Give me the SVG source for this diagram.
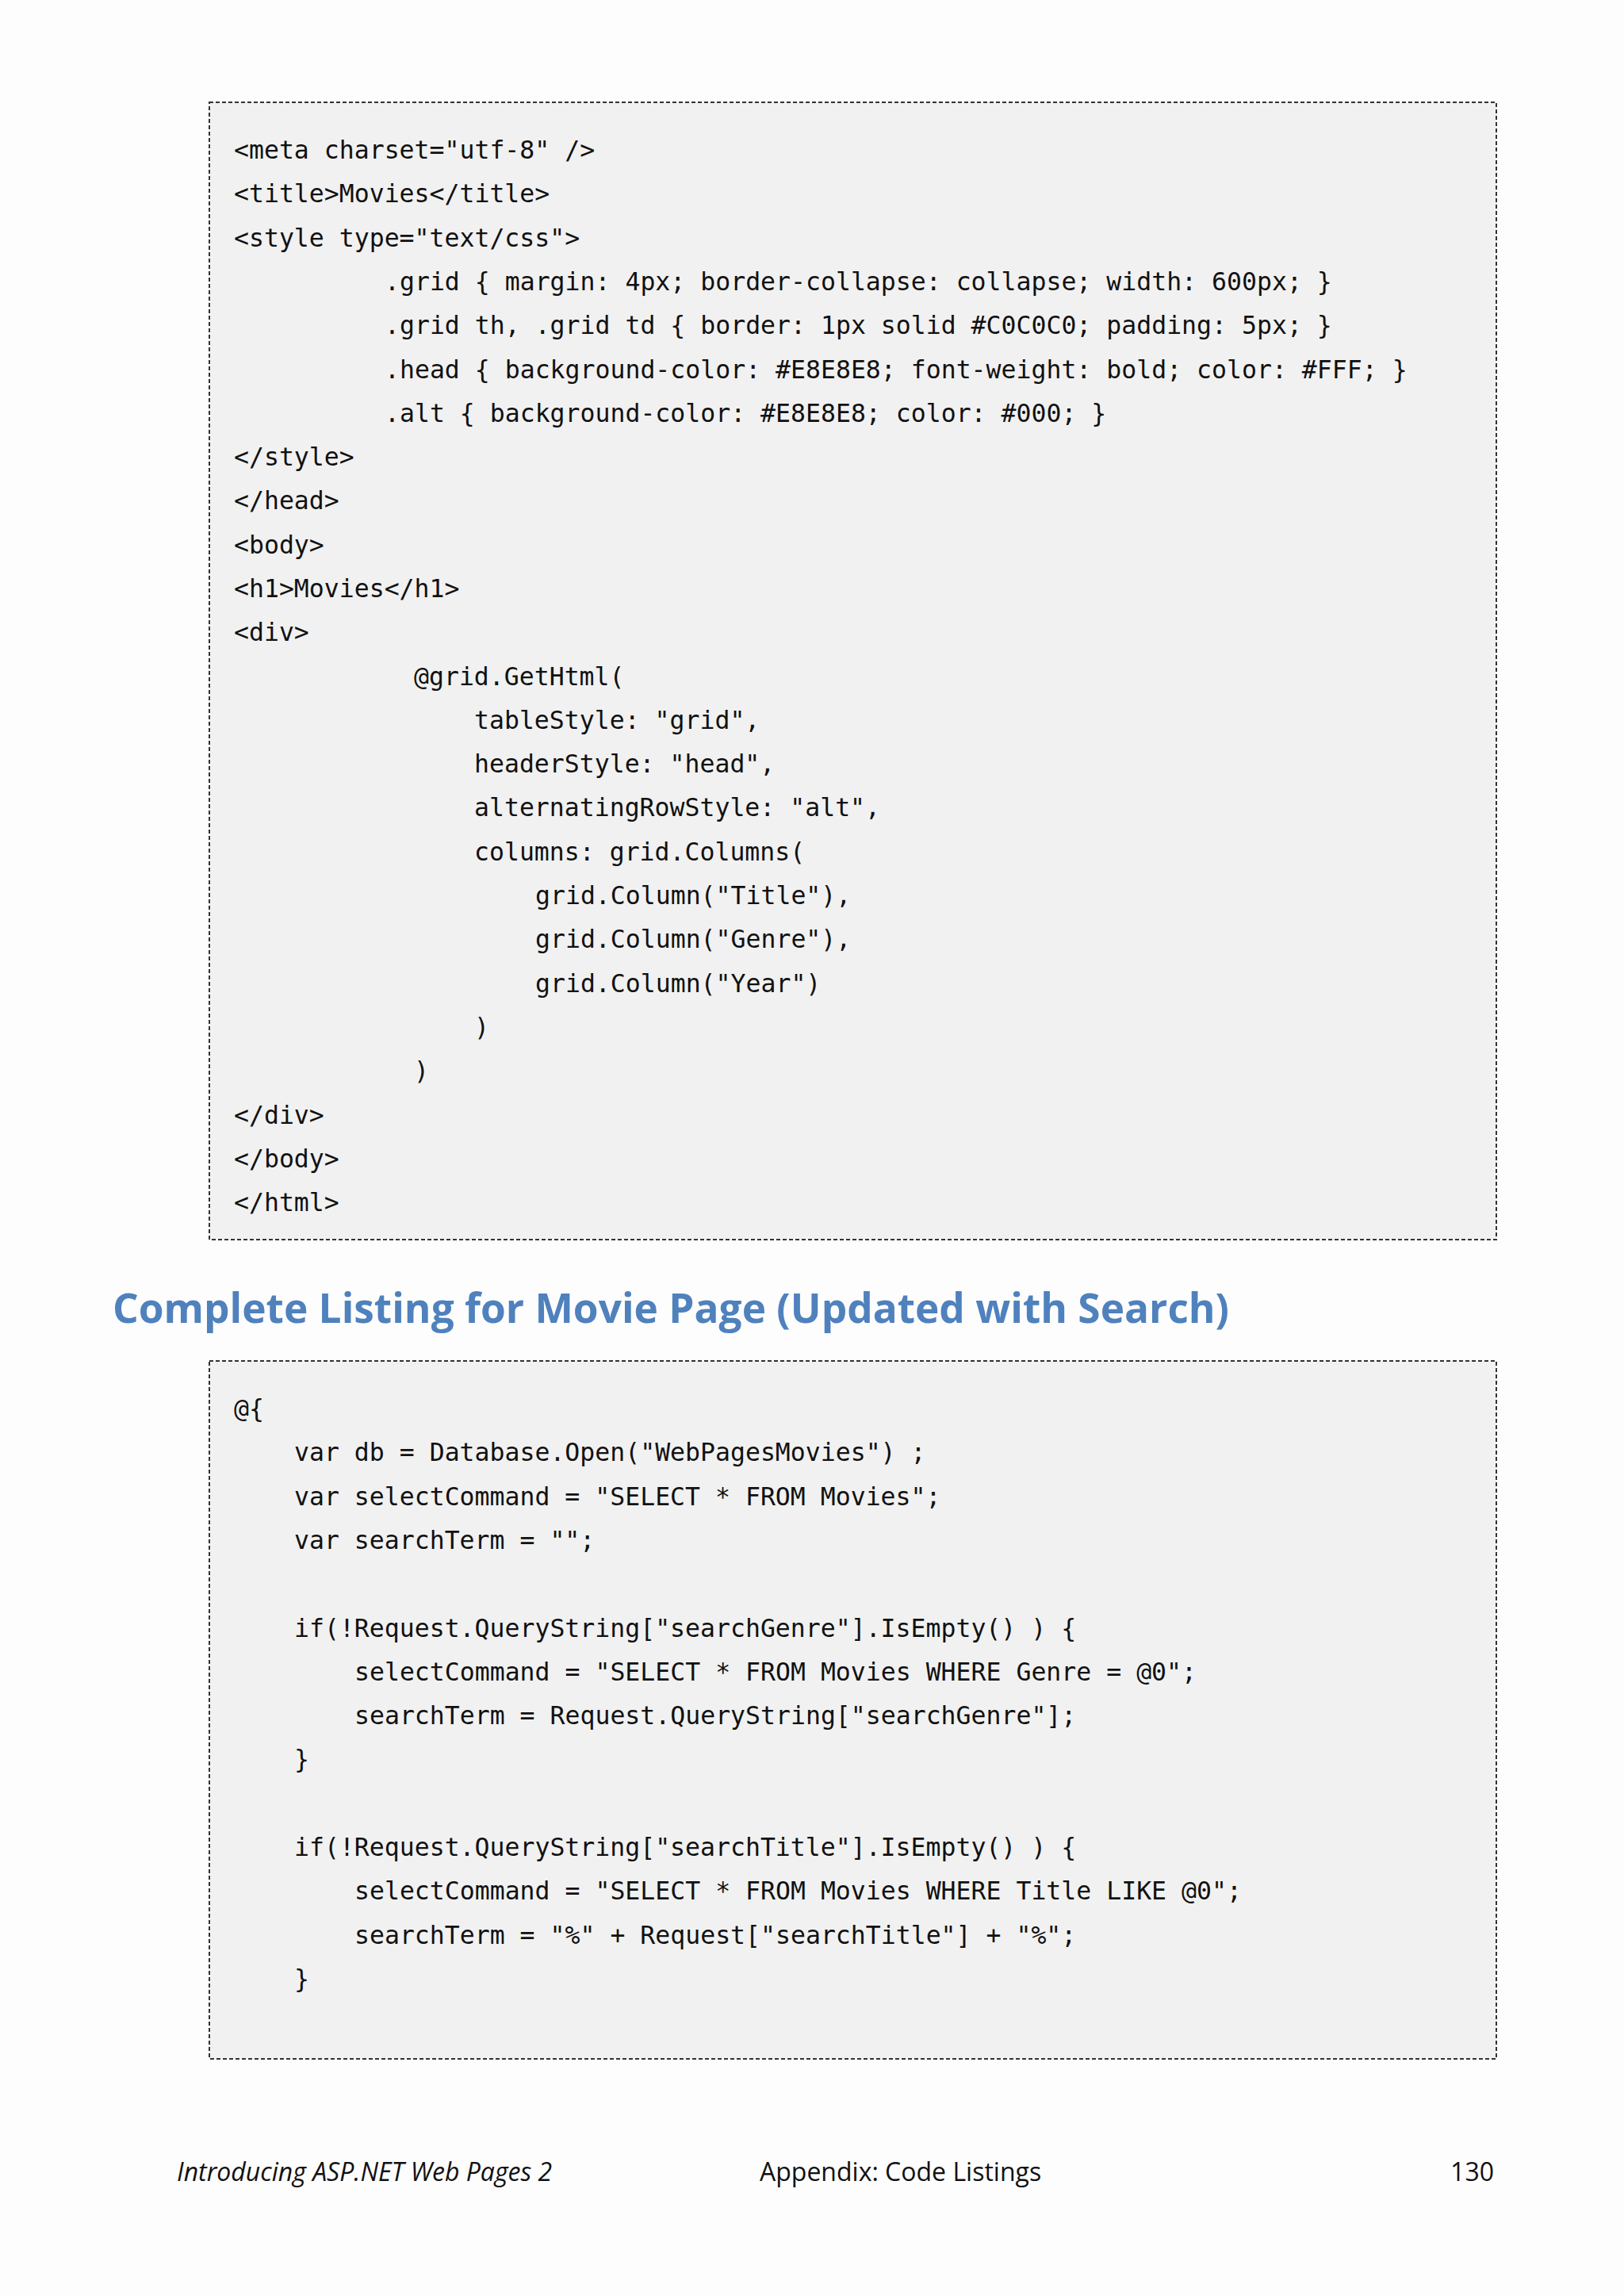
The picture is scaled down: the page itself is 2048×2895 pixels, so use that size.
<svg xmlns="http://www.w3.org/2000/svg" width="2048" height="2895" viewBox="0 0 2048 2895">
<style>
.box{fill:#F1F1F1;stroke:#333;stroke-width:2;stroke-dasharray:5 3}
.c{font-family:"DejaVu Sans Mono","Liberation Mono",monospace;font-size:31.5px;fill:#111;white-space:pre}
.f{font-family:"Open Sans","Noto Sans",sans-serif;font-size:32px;fill:#111}
</style>
<rect width="2048" height="2895" fill="#FDFDFD"/>
<g id="listing1">
<rect class="box" x="264" y="129" width="1623" height="1434"/>
<text class="c" x="295" y="200" xml:space="preserve"><tspan x="295">&lt;meta charset="utf-8" /&gt;</tspan><tspan x="295" dy="55.3">&lt;title&gt;Movies&lt;/title&gt;</tspan><tspan x="295" dy="55.3">&lt;style type="text/css"&gt;</tspan><tspan x="485" dy="55.3">.grid { margin: 4px; border-collapse: collapse; width: 600px; }</tspan><tspan x="485" dy="55.3">.grid th, .grid td { border: 1px solid #C0C0C0; padding: 5px; }</tspan><tspan x="485" dy="55.3">.head { background-color: #E8E8E8; font-weight: bold; color: #FFF; }</tspan><tspan x="485" dy="55.3">.alt { background-color: #E8E8E8; color: #000; }</tspan><tspan x="295" dy="55.3">&lt;/style&gt;</tspan><tspan x="295" dy="55.3">&lt;/head&gt;</tspan><tspan x="295" dy="55.3">&lt;body&gt;</tspan><tspan x="295" dy="55.3">&lt;h1&gt;Movies&lt;/h1&gt;</tspan><tspan x="295" dy="55.3">&lt;div&gt;</tspan><tspan x="522" dy="55.3">@grid.GetHtml(</tspan><tspan x="598" dy="55.3">tableStyle: "grid",</tspan><tspan x="598" dy="55.3">headerStyle: "head",</tspan><tspan x="598" dy="55.3">alternatingRowStyle: "alt",</tspan><tspan x="598" dy="55.3">columns: grid.Columns(</tspan><tspan x="675" dy="55.3">grid.Column("Title"),</tspan><tspan x="675" dy="55.3">grid.Column("Genre"),</tspan><tspan x="675" dy="55.3">grid.Column("Year")</tspan><tspan x="598" dy="55.3">)</tspan><tspan x="522" dy="55.3">)</tspan><tspan x="295" dy="55.3">&lt;/div&gt;</tspan><tspan x="295" dy="55.3">&lt;/body&gt;</tspan><tspan x="295" dy="55.3">&lt;/html&gt;</tspan></text>
</g>
<g id="heading">
<text x="142" y="1668" font-family="Open Sans,Noto Sans,sans-serif" font-weight="bold" font-size="52" fill="#4F81BD" textLength="1408" lengthAdjust="spacingAndGlyphs">Complete Listing for Movie Page (Updated with Search)</text>
</g>
<g id="listing2">
<rect class="box" x="264" y="1716" width="1623" height="880"/>
<text class="c" x="295" y="1787" xml:space="preserve"><tspan x="295">@{</tspan><tspan x="371" dy="55.3">var db = Database.Open("WebPagesMovies") ;</tspan><tspan x="371" dy="55.3">var selectCommand = "SELECT * FROM Movies";</tspan><tspan x="371" dy="55.3">var searchTerm = "";</tspan><tspan x="371" dy="110.6">if(!Request.QueryString["searchGenre"].IsEmpty() ) {</tspan><tspan x="447" dy="55.3">selectCommand = "SELECT * FROM Movies WHERE Genre = @0";</tspan><tspan x="447" dy="55.3">searchTerm = Request.QueryString["searchGenre"];</tspan><tspan x="371" dy="55.3">}</tspan><tspan x="371" dy="110.6">if(!Request.QueryString["searchTitle"].IsEmpty() ) {</tspan><tspan x="447" dy="55.3">selectCommand = "SELECT * FROM Movies WHERE Title LIKE @0";</tspan><tspan x="447" dy="55.3">searchTerm = "%" + Request["searchTitle"] + "%";</tspan><tspan x="371" dy="55.3">}</tspan></text>
</g>
<g id="footer">
<text class="f" x="223" y="2750" font-style="italic">Introducing ASP.NET Web Pages 2</text>
<text class="f" x="958" y="2750">Appendix: Code Listings</text>
<text class="f" x="1884" y="2750" text-anchor="end">130</text>
</g>
</svg>
